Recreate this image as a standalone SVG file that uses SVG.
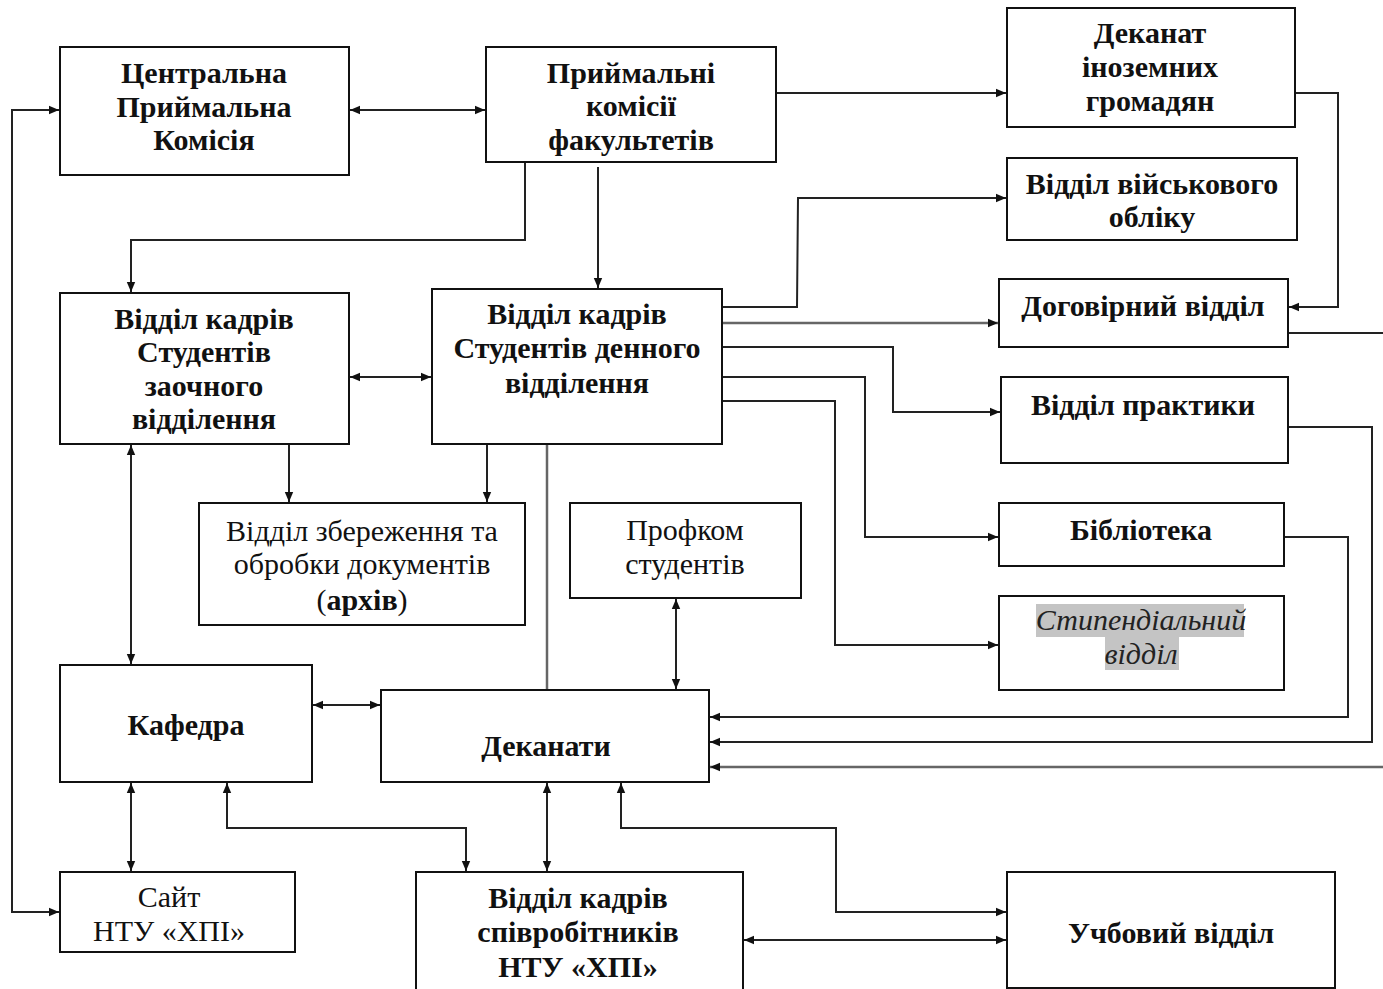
<svg xmlns="http://www.w3.org/2000/svg" width="1383" height="989" viewBox="0 0 1383 989">
<defs>
<marker id="ah" markerUnits="userSpaceOnUse" markerWidth="11" markerHeight="10" refX="10" refY="5" orient="auto-start-reverse" viewBox="0 0 11 10">
<path d="M0,0.8 L10,5 L0,9.2 z" fill="#111"/>
</marker>
<style>
.box{fill:#fff;stroke:#111;stroke-width:2}
.t{font-family:"Liberation Serif","Times New Roman",serif;font-size:30px;font-weight:bold;fill:#111;text-anchor:middle}
.n{font-family:"Liberation Serif","Times New Roman",serif;font-size:30px;font-weight:normal;fill:#111;text-anchor:middle}
.i{font-family:"Liberation Serif","Times New Roman",serif;font-size:30px;font-style:italic;fill:#222;text-anchor:middle}
.c{fill:none;stroke:#222;stroke-width:2}
.g{fill:none;stroke:#666;stroke-width:2.5}
.a{marker-end:url(#ah)}
.b{marker-start:url(#ah);marker-end:url(#ah)}
</style>
</defs>
<rect width="1383" height="989" fill="#fff"/>
<g id="connectors">
<path class="c b" d="M350,110 H485"/>
<path class="c b" d="M59,110 H12 V912 H59"/>
<path class="c a" d="M776,93 H1006"/>
<path class="c a" d="M525,162 V240 H131 V292"/>
<path class="c a" d="M598,167 V288"/>
<path class="c a" d="M1295,93 H1338 V307 H1289"/>
<path class="c a" d="M722,307 H797 L798,198 H1006"/>
<path class="g a" d="M722,323 H998"/>
<path class="c a" d="M722,347 H893 V412 H1000"/>
<path class="c a" d="M722,377 H865 V537 H998"/>
<path class="c a" d="M722,401 H835 V645 H998"/>
<path class="c" d="M1288,333 H1383"/>
<path class="g a" d="M1383,767 H710"/>
<path class="c a" d="M1288,427 H1372 V742 H710"/>
<path class="c a" d="M1284,537 H1348 V717 H710"/>
<path class="c b" d="M350,377 H431"/>
<path class="c a" d="M289,444 V502"/>
<path class="c a" d="M487,444 V502"/>
<path class="g" d="M547,444 V690"/>
<path class="c b" d="M131,445 V664"/>
<path class="c b" d="M676,599 V689"/>
<path class="c b" d="M313,705 H380"/>
<path class="c b" d="M131,783 V871"/>
<path class="c b" d="M227,783 V828 H466 V871"/>
<path class="c b" d="M547,783 V871"/>
<path class="c b" d="M621,783 V828 H836 V912 H1006"/>
<path class="c b" d="M744,940 H1006"/>
</g>
<g id="n-cpk"><rect class="box" x="60" y="47" width="289" height="128"/>
<text class="t" x="204" y="83">Центральна</text><text class="t" x="204" y="117">Приймальна</text><text class="t" x="204" y="150">Комісія</text></g>
<g id="n-pkf"><rect class="box" x="486" y="47" width="290" height="115"/>
<text class="t" x="631" y="83">Приймальні</text><text class="t" x="631" y="116">комісії</text><text class="t" x="631" y="150">факультетів</text></g>
<g id="n-dig"><rect class="box" x="1007" y="8" width="288" height="119"/>
<text class="t" x="1150" y="43">Деканат</text><text class="t" x="1150" y="77">іноземних</text><text class="t" x="1150" y="111">громадян</text></g>
<g id="n-vvo"><rect class="box" x="1007" y="158" width="290" height="82"/>
<text class="t" x="1152" y="194">Відділ військового</text><text class="t" x="1152" y="227">обліку</text></g>
<g id="n-dog"><rect class="box" x="999" y="279" width="289" height="68"/>
<text class="t" x="1143" y="316">Договірний відділ</text></g>
<g id="n-prak"><rect class="box" x="1001" y="377" width="287" height="86"/>
<text class="t" x="1143" y="415">Відділ практики</text></g>
<g id="n-bib"><rect class="box" x="999" y="503" width="285" height="63"/>
<text class="t" x="1141" y="540">Бібліотека</text></g>
<g id="n-styp"><rect class="box" x="999" y="596" width="285" height="94"/>
<rect x="1036" y="604" width="208" height="33" fill="#c4c4c4"/><rect x="1105" y="637" width="74" height="33" fill="#c4c4c4"/>
<text class="i" x="1141" y="630">Стипендіальний</text><text class="i" x="1141" y="664">відділ</text></g>
<g id="n-zaoch"><rect class="box" x="60" y="293" width="289" height="151"/>
<text class="t" x="204" y="329">Відділ кадрів</text><text class="t" x="204" y="362">Студентів</text><text class="t" x="204" y="396">заочного</text><text class="t" x="204" y="429">відділення</text></g>
<g id="n-denn"><rect class="box" x="432" y="289" width="290" height="155"/>
<text class="t" x="577" y="324">Відділ кадрів</text><text class="t" x="577" y="358">Студентів денного</text><text class="t" x="577" y="393">відділення</text></g>
<g id="n-arkh"><rect class="box" x="199" y="503" width="326" height="122"/>
<text class="n" x="362" y="541">Відділ збереження та</text><text class="n" x="362" y="574">обробки документів</text><text class="n" x="362" y="610">(<tspan font-weight="bold">архів</tspan>)</text></g>
<g id="n-prof"><rect class="box" x="570" y="503" width="231" height="95"/>
<text class="n" x="685" y="540">Профком</text><text class="n" x="685" y="574">студентів</text></g>
<g id="n-kaf"><rect class="box" x="60" y="665" width="252" height="117"/>
<text class="t" x="186" y="735">Кафедра</text></g>
<g id="n-dek"><rect class="box" x="381" y="690" width="328" height="92"/>
<text class="t" x="546" y="756">Деканати</text></g>
<g id="n-sait"><rect class="box" x="60" y="872" width="235" height="80"/>
<text class="n" x="169" y="907">Сайт</text><text class="n" x="169" y="941">НТУ «ХПІ»</text></g>
<g id="n-spiv"><rect class="box" x="416" y="872" width="327" height="125"/>
<text class="t" x="578" y="908">Відділ кадрів</text><text class="t" x="578" y="942">співробітників</text><text class="t" x="578" y="977">НТУ «ХПІ»</text></g>
<g id="n-uch"><rect class="box" x="1007" y="872" width="328" height="116"/>
<text class="t" x="1171" y="943">Учбовий відділ</text></g>
</svg>
